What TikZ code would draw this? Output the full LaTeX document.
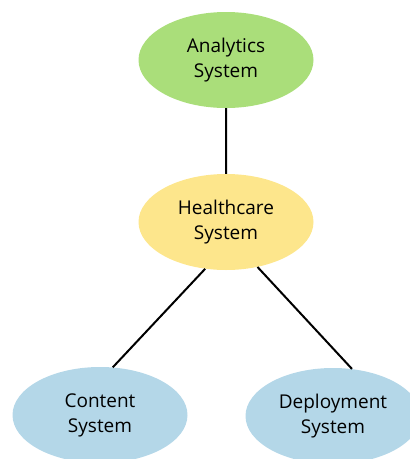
\documentclass[tikz,border=0pt]{standalone}
\usepackage{fontspec}
\setmainfont{Open Sans}
\usetikzlibrary{positioning,shapes.geometric}
\definecolor{anagreen}{RGB}{170,222,122}
\definecolor{hcyellow}{RGB}{253,230,140}
\definecolor{sysblue}{RGB}{180,215,232}

\begin{document}
\begin{tikzpicture}[x=1pt,y=1pt]
    \tikzset{system/.style= {ellipse
    , minimum width=175pt
    , minimum height=96pt
    , inner sep=0pt
    , align=center
    , font=\fontsize{19}{25}\selectfont
      }
    }
\useasboundingbox (0,0) rectangle (410,-459);

\node [system,fill=anagreen] (analytics) at (226,-60) {Analytics \\System};
\node [system,fill=hcyellow] (health) at (226,-222) {Healthcare \\System};
\node [system,fill=sysblue] (content) at (100,-415) {Content \\System};
\node [system,fill=sysblue] (deploy) at (333,-416) {Deployment \\System};

 \path[draw, line width=2pt]
  (analytics) -- (health)
  (health.246) -- (content.75)
  (health.305) -- (deploy.68);
\end{tikzpicture}
\end{document}
